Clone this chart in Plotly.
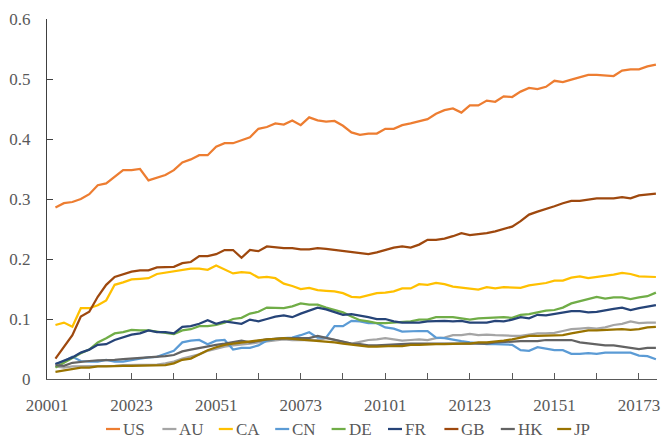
import plotly.graph_objects as go

quarter_index = list(range(1, 73))
tick_positions = [0, 10, 20, 30, 40, 50, 60, 70]
tick_labels = ["20001", "20023", "20051", "20073", "20101", "20123", "20151", "20173"]

US = [0.286,0.293,0.295,0.300,0.308,0.323,0.326,0.337,0.348,0.348,
      0.350,0.331,0.336,0.340,0.348,0.361,0.366,0.373,0.373,0.387,
      0.393,0.393,0.398,0.403,0.417,0.420,0.426,0.424,0.431,0.423,
      0.436,0.431,0.429,0.430,0.422,0.411,0.407,0.409,0.409,0.417,
      0.417,0.423,0.426,0.429,0.433,0.442,0.448,0.451,0.444,0.456,
      0.456,0.464,0.462,0.471,0.470,0.479,0.485,0.483,0.487,0.497,
      0.495,0.499,0.503,0.507,0.507,0.506,0.505,0.514,0.516,0.516,
      0.521,0.524]
AU = [0.021,0.019,0.021,0.021,0.021,0.021,0.022,0.022,0.023,0.023,
      0.023,0.024,0.024,0.026,0.029,0.034,0.037,0.041,0.047,0.051,
      0.054,0.056,0.057,0.059,0.061,0.063,0.065,0.066,0.065,0.065,
      0.066,0.065,0.068,0.065,0.062,0.059,0.062,0.065,0.066,0.068,
      0.066,0.064,0.065,0.066,0.065,0.068,0.069,0.073,0.073,0.075,
      0.073,0.074,0.073,0.072,0.072,0.072,0.074,0.076,0.076,0.077,
      0.080,0.083,0.084,0.085,0.084,0.086,0.090,0.092,0.096,0.093,
      0.094,0.094]
CA = [0.090,0.094,0.087,0.118,0.118,0.123,0.131,0.157,0.161,0.166,
      0.167,0.168,0.175,0.177,0.179,0.182,0.184,0.184,0.182,0.189,
      0.183,0.176,0.178,0.177,0.169,0.170,0.168,0.159,0.155,0.150,
      0.152,0.148,0.147,0.146,0.143,0.137,0.136,0.140,0.143,0.144,
      0.146,0.151,0.151,0.158,0.157,0.160,0.158,0.154,0.152,0.151,
      0.149,0.153,0.151,0.153,0.153,0.152,0.156,0.158,0.160,0.164,
      0.164,0.169,0.171,0.168,0.170,0.171,0.174,0.177,0.175,0.171,
      0.170,0.170]
CN = [0.025,0.029,0.037,0.030,0.029,0.029,0.032,0.029,0.029,0.032,
      0.034,0.036,0.037,0.042,0.047,0.061,0.064,0.065,0.058,0.064,
      0.065,0.049,0.052,0.052,0.056,0.064,0.067,0.068,0.069,0.073,
      0.078,0.069,0.069,0.088,0.088,0.097,0.096,0.093,0.093,0.086,
      0.084,0.079,0.080,0.080,0.080,0.069,0.068,0.065,0.063,0.061,
      0.059,0.058,0.058,0.057,0.057,0.048,0.047,0.053,0.051,0.048,
      0.048,0.042,0.042,0.043,0.042,0.044,0.044,0.044,0.044,0.039,
      0.038,0.033]
DE = [0.019,0.027,0.034,0.043,0.049,0.061,0.068,0.076,0.078,0.082,
      0.081,0.081,0.079,0.077,0.075,0.081,0.083,0.088,0.088,0.090,
      0.094,0.100,0.102,0.109,0.112,0.119,0.118,0.118,0.121,0.126,
      0.124,0.124,0.119,0.115,0.111,0.104,0.098,0.096,0.093,0.093,
      0.094,0.094,0.096,0.099,0.099,0.103,0.103,0.103,0.101,0.099,
      0.101,0.102,0.103,0.103,0.102,0.107,0.108,0.111,0.114,0.115,
      0.119,0.126,0.130,0.134,0.137,0.134,0.136,0.136,0.133,0.136,
      0.138,0.144]
FR = [0.025,0.031,0.036,0.044,0.049,0.057,0.058,0.065,0.069,0.074,
      0.076,0.081,0.078,0.078,0.076,0.087,0.088,0.092,0.098,0.092,
      0.096,0.094,0.092,0.099,0.096,0.100,0.104,0.106,0.103,0.109,
      0.114,0.119,0.116,0.111,0.107,0.108,0.106,0.103,0.100,0.100,
      0.096,0.094,0.094,0.094,0.096,0.097,0.097,0.096,0.097,0.094,
      0.094,0.094,0.097,0.096,0.099,0.103,0.101,0.107,0.106,0.108,
      0.111,0.113,0.113,0.111,0.112,0.115,0.117,0.119,0.115,0.118,
      0.121,0.123]
GB = [0.034,0.054,0.073,0.104,0.112,0.137,0.157,0.170,0.174,0.179,
      0.181,0.181,0.186,0.187,0.187,0.193,0.195,0.205,0.205,0.208,
      0.215,0.215,0.202,0.215,0.213,0.221,0.219,0.218,0.218,0.216,
      0.216,0.218,0.217,0.215,0.214,0.211,0.209,0.208,0.211,0.215,
      0.219,0.221,0.219,0.224,0.232,0.232,0.234,0.238,0.243,0.240,
      0.241,0.243,0.246,0.250,0.254,0.263,0.274,0.279,0.283,0.288,
      0.293,0.297,0.297,0.299,0.301,0.301,0.301,0.303,0.301,0.306,
      0.308,0.309]
HK = [0.023,0.022,0.027,0.029,0.030,0.031,0.031,0.032,0.033,0.034,
      0.034,0.036,0.037,0.038,0.040,0.046,0.049,0.052,0.055,0.057,
      0.059,0.061,0.064,0.061,0.064,0.066,0.067,0.068,0.068,0.068,
      0.068,0.072,0.069,0.066,0.062,0.059,0.058,0.056,0.056,0.057,
      0.058,0.059,0.059,0.059,0.059,0.059,0.059,0.059,0.059,0.058,
      0.059,0.059,0.061,0.062,0.063,0.063,0.063,0.063,0.065,0.065,
      0.065,0.065,0.061,0.059,0.058,0.056,0.056,0.054,0.051,0.050,
      0.052,0.052]
JP = [0.012,0.014,0.016,0.019,0.019,0.021,0.021,0.022,0.022,0.022,
      0.022,0.022,0.022,0.023,0.026,0.032,0.034,0.041,0.048,0.053,
      0.057,0.059,0.061,0.063,0.065,0.066,0.067,0.068,0.067,0.066,
      0.065,0.064,0.062,0.061,0.059,0.057,0.055,0.054,0.054,0.055,
      0.055,0.055,0.057,0.057,0.058,0.058,0.058,0.059,0.059,0.059,
      0.061,0.061,0.062,0.064,0.066,0.069,0.072,0.072,0.072,0.073,
      0.073,0.076,0.079,0.081,0.081,0.082,0.083,0.083,0.082,0.083,
      0.086,0.087]

series_names = ["US", "AU", "CA", "CN", "DE", "FR", "GB", "HK", "JP"]
series_values = [US, AU, CA, CN, DE, FR, GB, HK, JP]
series_colors = ["#ED7D31", "#A5A5A5", "#FFC000", "#5B9BD5", "#70AD47",
                 "#264478", "#9E480E", "#636363", "#997300"]

FONT = "Liberation Serif, Tinos, DejaVu Serif, Noto Serif, serif"
GREY = "#595959"
W, H = 662, 438
ML, MR, MT, MB = 47, 5, 19, 59
PW, PH = W - ML - MR, H - MT - MB

fig = go.Figure()
for name, vals, col in zip(series_names, series_values, series_colors):
    fig.add_trace(go.Scatter(x=quarter_index, y=vals, mode="lines", name=name,
                             line=dict(color=col, width=2.25), showlegend=False))

# Legend row (Excel style: short line + label), laid out in pixels below the axis
leg_y = -(429 - (MT + PH)) / PH
leg_start_px, leg_pitch_px, leg_line_px = 106, 56.4, 14
for k, (name, col) in enumerate(zip(series_names, series_colors)):
    x0 = leg_start_px + k * leg_pitch_px
    fig.add_shape(type="line", xref="paper", yref="paper",
                  x0=(x0 - ML) / PW, x1=(x0 + leg_line_px - ML) / PW,
                  y0=leg_y, y1=leg_y, line=dict(color=col, width=2.25))
    fig.add_annotation(xref="paper", yref="paper", x=(x0 + leg_line_px + 1 - ML) / PW,
                       y=leg_y, xanchor="left", yanchor="middle", text=name,
                       showarrow=False, font=dict(family=FONT, size=17, color=GREY))

x_tickvals = list(range(0, 71, 5))
x_ticktext = [tick_labels[tick_positions.index(v)] if v in tick_positions else "" for v in x_tickvals]

fig.update_layout(
    width=W, height=H,
    margin=dict(l=ML, r=MR, t=MT, b=MB, autoexpand=False),
    paper_bgcolor="white", plot_bgcolor="white",
    font=dict(family=FONT, size=17, color=GREY),
    showlegend=False,
    xaxis=dict(range=[0, 72.13], tickmode="array", tickvals=x_tickvals, ticktext=x_ticktext,
               showgrid=False, zeroline=False, showline=True, linecolor=GREY, linewidth=1.2,
               ticks="inside", ticklen=6, tickcolor=GREY, tickwidth=1.2,
               ticklabelstandoff=10, tickfont=dict(family=FONT, size=17, color=GREY)),
    yaxis=dict(range=[0, 0.6], tickmode="array", tickvals=[0, 0.1, 0.2, 0.3, 0.4, 0.5, 0.6],
               ticktext=["0", "0.1", "0.2", "0.3", "0.4", "0.5", "0.6"],
               showgrid=False, zeroline=False, showline=True, linecolor="#404040", linewidth=1.3,
               ticks="inside", ticklen=6, tickcolor="#404040", tickwidth=1.2,
               ticklabelstandoff=12, tickfont=dict(family=FONT, size=17, color=GREY)),
)

fig.write_html("out.html", config={"displayModeBar": False},
               post_script="document.body.style.margin='0';document.body.style.padding='0';")
